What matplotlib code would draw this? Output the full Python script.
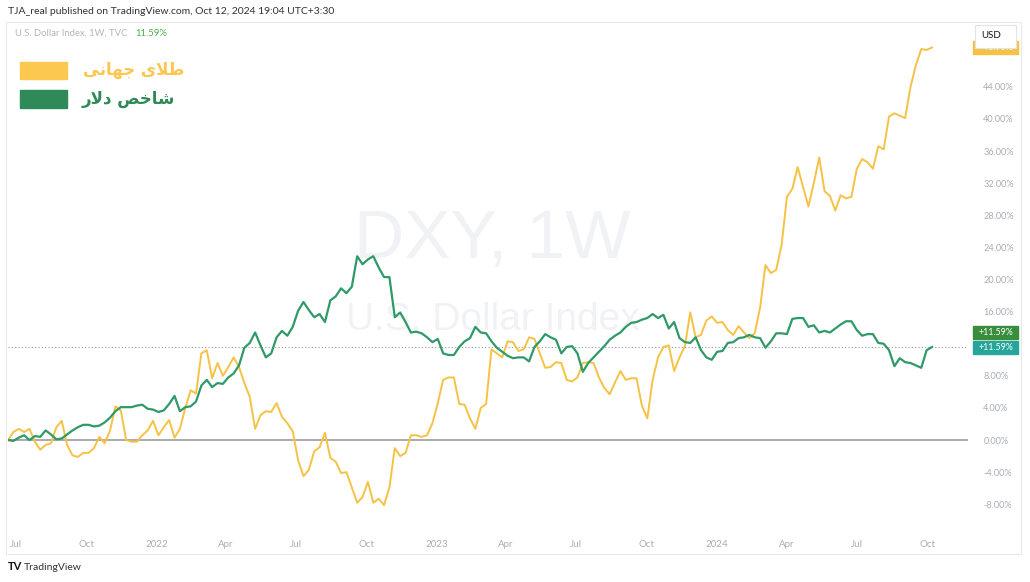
import pandas as pd
import matplotlib
matplotlib.use("Agg")
import matplotlib.pyplot as plt
import matplotlib.transforms as mtransforms
from matplotlib.patches import Rectangle

plt.rcParams['font.family'] = ['Lato', 'DejaVu Sans']

# weekly bars, % change since the first bar
first_week = "2021-06-21"

dxy = [0.0, -0.1, 0.3, 0.6, 0.0, 0.5, 0.4, 1.2, 0.7, 0.1,
       0.2, 0.7, 1.2, 1.6, 1.9, 1.9, 1.7, 1.8, 2.2, 2.8,
       3.6, 4.1, 4.1, 4.1, 4.3, 4.4, 3.9, 3.8, 3.5, 3.7,
       4.5, 5.5, 3.6, 4.1, 4.2, 4.8, 6.8, 7.5, 6.6, 7.1,
       7.0, 7.8, 8.3, 9.3, 11.5, 12.1, 13.4, 11.8, 10.3, 10.8,
       12.8, 13.6, 13.0, 14.1, 16.1, 17.2, 16.2, 15.3, 15.7, 14.7,
       17.4, 17.9, 18.9, 18.3, 19.1, 22.9, 21.9, 22.5, 22.9, 21.5,
       20.3, 20.3, 15.3, 15.9, 14.7, 13.4, 13.5, 13.3, 12.8, 12.2,
       12.6, 10.8, 10.6, 10.6, 11.6, 12.3, 12.7, 14.1, 13.4, 13.3,
       12.3, 11.5, 11.0, 10.5, 10.2, 10.3, 10.3, 9.8, 11.6, 12.3,
       13.2, 12.8, 12.5, 10.8, 11.6, 11.7, 10.8, 8.5, 9.6, 10.3,
       11.0, 11.7, 12.5, 13.0, 13.4, 14.1, 14.6, 14.7, 15.0, 15.2,
       15.7, 15.2, 15.6, 13.9, 14.7, 12.7, 12.2, 12.1, 12.8, 11.2,
       10.3, 10.0, 11.0, 11.1, 12.1, 12.2, 12.7, 12.8, 13.1, 12.8,
       12.7, 11.5, 12.3, 13.3, 13.3, 13.2, 15.1, 15.2, 15.2, 14.1,
       14.3, 13.4, 13.6, 13.4, 13.9, 14.4, 14.8, 14.8, 13.7, 13.0,
       13.2, 13.2, 12.1, 12.0, 11.2, 9.2, 10.2, 9.7, 9.6, 9.3,
       9.0, 11.2, 11.59]

gold = [0.0, 1.0, 1.4, 1.0, 1.4, -0.2, -1.2, -0.6, -0.4, 1.6,
        2.4, -0.6, -1.9, -2.1, -1.6, -1.6, -1.0, 0.4, -0.4, 1.2,
        4.2, 3.7, 0.0, -0.2, -0.2, 0.6, 1.2, 2.4, 0.6, 1.6,
        2.5, 0.3, 1.4, 4.0, 6.2, 5.8, 10.8, 11.2, 7.7, 9.6,
        8.0, 9.1, 10.3, 9.1, 7.1, 5.4, 1.4, 3.1, 3.6, 3.5,
        4.6, 2.9, 2.1, 1.1, -2.5, -4.5, -3.7, -1.4, -0.9, 0.9,
        -2.2, -2.7, -4.1, -4.0, -5.9, -7.8, -7.1, -5.2, -7.8, -7.3,
        -8.1, -5.9, -1.0, -2.0, -1.6, 0.6, 0.6, 0.4, 0.6, 2.1,
        4.6, 7.5, 7.8, 7.8, 4.5, 4.4, 2.7, 1.4, 4.0, 4.5,
        11.3, 10.8, 10.3, 12.3, 12.2, 11.1, 11.3, 12.8, 12.6, 10.8,
        9.0, 9.1, 9.7, 9.6, 7.5, 7.3, 7.8, 9.6, 9.7, 9.6,
        7.8, 6.5, 5.7, 7.2, 8.6, 7.5, 7.7, 7.7, 4.3, 2.7,
        7.5, 10.3, 11.6, 11.8, 8.6, 10.3, 11.7, 15.9, 12.8, 13.1,
        14.9, 15.4, 14.6, 14.7, 13.7, 13.1, 14.2, 13.4, 12.7, 13.3,
        16.5, 21.8, 20.8, 21.2, 24.3, 30.3, 31.3, 34.0, 31.5, 29.1,
        32.0, 35.2, 31.0, 30.4, 28.6, 30.5, 30.1, 30.3, 33.8, 35.0,
        34.6, 33.8, 36.6, 36.2, 40.3, 40.7, 40.4, 40.1, 44.0, 46.7,
        48.7, 48.6, 48.9]

time_ticks = ["2021-07-01", "2021-10-01", "2022-01-01", "2022-04-01", "2022-07-01",
              "2022-10-01", "2023-01-01", "2023-04-01", "2023-07-01", "2023-10-01",
              "2024-01-01", "2024-04-01", "2024-07-01", "2024-10-01"]
time_labels = ["Jul", "Oct", "2022", "Apr", "Jul", "Oct", "2023", "Apr", "Jul", "Oct",
               "2024", "Apr", "Jul", "Oct"]
# 12% sits behind the last-value labels, so it is not shown
pct_ticks = [-8, -4, 0, 4, 8, 16, 20, 24, 28, 32, 36, 40, 44]

legend_gold = "طلای جهانی"
legend_dxy = "شاخص دلار"

GOLD = "#f6c244"
GREEN = "#2f9a68"
GRAY = "#a9acb5"

# matplotlib does no arabic shaping, so pick presentation forms by hand
FORMS = {
    "\u0627": ("\ufe8d", "\ufe8e", None, None),
    "\u062f": ("\ufea9", "\ufeaa", None, None),
    "\u0631": ("\ufead", "\ufeae", None, None),
    "\u0637": ("\ufec1", "\ufec2", "\ufec3", "\ufec4"),
    "\u0644": ("\ufedd", "\ufede", "\ufedf", "\ufee0"),
    "\u06cc": ("\ufeef", "\ufef0", "\ufef3", "\ufef4"),
    "\u064a": ("\ufeef", "\ufef0", "\ufef3", "\ufef4"),
    "\u062c": ("\ufe9d", "\ufe9e", "\ufe9f", "\ufea0"),
    "\u0647": ("\ufee9", "\ufeea", "\ufeeb", "\ufeec"),
    "\u0646": ("\ufee5", "\ufee6", "\ufee7", "\ufee8"),
    "\u0634": ("\ufeb5", "\ufeb6", "\ufeb7", "\ufeb8"),
    "\u062e": ("\ufea5", "\ufea6", "\ufea7", "\ufea8"),
    "\u0635": ("\ufeb9", "\ufeba", "\ufebb", "\ufebc"),
}


def shape_fa(text):
    out = []
    i = 0
    while i < len(text):
        ch = text[i]
        prev = text[i - 1] if i > 0 else " "
        joins_prev = prev in FORMS and FORMS[prev][2] is not None
        if ch == "\u0644" and i + 1 < len(text) and text[i + 1] == "\u0627":
            out.append("\ufefc" if joins_prev else "\ufefb")
            i += 2
            continue
        if ch not in FORMS:
            out.append(ch)
            i += 1
            continue
        nxt = text[i + 1] if i + 1 < len(text) else " "
        iso, fin, ini, med = FORMS[ch]
        joins_next = ini is not None and nxt in FORMS
        if joins_prev and joins_next:
            out.append(med)
        elif joins_prev:
            out.append(fin)
        elif joins_next:
            out.append(ini)
        else:
            out.append(iso)
        i += 1
    return "".join(reversed(out))


W, H = 1030, 582


def fx(px):
    return px / W


def fy(py):
    return 1 - py / H


dates = pd.date_range(first_week, periods=len(dxy), freq="W-MON")

fig = plt.figure(figsize=(W / 100, H / 100), dpi=100)
fig.patch.set_facecolor("white")
ax = fig.add_axes([fx(8), fy(530), fx(968) - fx(8), fy(25) - fy(530)])
ax.set_facecolor("none")
for s in ax.spines.values():
    s.set_visible(False)

# watermark
ax.text(0.505, 0.575, "DXY, 1W", transform=ax.transAxes, ha="center", va="center",
        fontsize=50, color="#f0f2f5", family="Liberation Sans", zorder=0)
ax.text(0.505, 0.415, "U.S. Dollar Index", transform=ax.transAxes, ha="center", va="center",
        fontsize=28, color="#f0f2f5", family="Liberation Sans", zorder=0)

ax.axhline(0, color="#9c9c9c", lw=1.2, zorder=1)
ax.axhline(dxy[-1], color="#9598a1", lw=0.8, ls=(0, (1, 2)), zorder=1)
ax.plot(dates, gold, color=GOLD, lw=1.4, zorder=3)
ax.plot(dates, dxy, color=GREEN, lw=1.6, zorder=4)

ax.set_xlim(dates[0], dates[0] + pd.Timedelta(weeks=178.7))
ax.set_ylim(-11.2, 51.7)

ax.set_xticks(pd.to_datetime(time_ticks))
ax.set_xticklabels(time_labels)
ax.tick_params(axis="x", length=0, pad=7, labelsize=7, labelcolor=GRAY)
ax.yaxis.tick_right()
ax.set_yticks(pct_ticks)
ax.set_yticklabels([f"{v:.2f}%" for v in pct_ticks])
ax.tick_params(axis="y", length=0, pad=11, labelsize=6.6, labelcolor=GRAY)

# last value labels on the price scale
tr = mtransforms.blended_transform_factory(ax.transAxes, ax.transData)
box_w = 45 / 960
box_h = 13 / 8.03
lab_x = 1.0055


def price_label(val, color, shift=0.0):
    y = val + shift
    ax.add_patch(Rectangle((lab_x, y - box_h / 2), box_w, box_h, transform=tr,
                           color=color, clip_on=False, zorder=5))
    ax.text(lab_x + box_w / 2, y, f"+{val:.2f}%", transform=tr, ha="center", va="center",
            fontsize=6.3, color="white", clip_on=False, zorder=6)


price_label(gold[-1], GOLD)
price_label(dxy[-1], "#26a69a")
price_label(dxy[-1], "#388e3c", shift=15 / 8.03)

# outer frame and USD button
fig.add_artist(Rectangle((fx(6), fy(554)), fx(1021) - fx(6), fy(22) - fy(554),
                         transform=fig.transFigure, fill=False, ec="#e6e8ec", lw=0.8))
fig.add_artist(Rectangle((fx(975), fy(48)), fx(1016) - fx(975), fy(25) - fy(48),
                         transform=fig.transFigure, fc="white", ec="#e0e3eb", lw=0.8, zorder=10))
fig.text(fx(991), fy(36), "USD", ha="center", va="center", fontsize=7, color="#131722", zorder=11)

# header and footer
fig.text(fx(8), fy(11), "TJA_real published on TradingView.com, Oct 12, 2024 19:04 UTC+3:30",
         ha="left", va="center", fontsize=7.5, color="#333333")
fig.text(fx(15), fy(33), "U.S. Dollar Index, 1W, TVC", ha="left", va="center",
         fontsize=6.8, color="#b2b5be")
fig.text(fx(135), fy(33), f"{dxy[-1]:.2f}%", ha="left", va="center", fontsize=6.8, color="#4caf50")
fig.text(fx(8), fy(567), "TV", ha="left", va="center", fontsize=8, weight="bold", color="#131722")
fig.text(fx(24), fy(567), "TradingView", ha="left", va="center", fontsize=7.5, color="#333333")

# legend
fig.add_artist(Rectangle((fx(20), fy(79)), fx(67) - fx(20), fy(62) - fy(79),
                         transform=fig.transFigure, color="#fdc84f"))
fig.add_artist(Rectangle((fx(20), fy(108)), fx(67) - fx(20), fy(90) - fy(108),
                         transform=fig.transFigure, color="#2e8b57"))
fig.text(fx(83), fy(70), shape_fa(legend_gold), ha="left", va="center", fontsize=12,
         weight="bold", color="#fbc74e", family=["DejaVu Sans"])
fig.text(fx(82), fy(99), shape_fa(legend_dxy), ha="left", va="center", fontsize=12,
         weight="bold", color="#2e8b57", family=["DejaVu Sans"])

fig.savefig("out.png", dpi=100, facecolor="white")
